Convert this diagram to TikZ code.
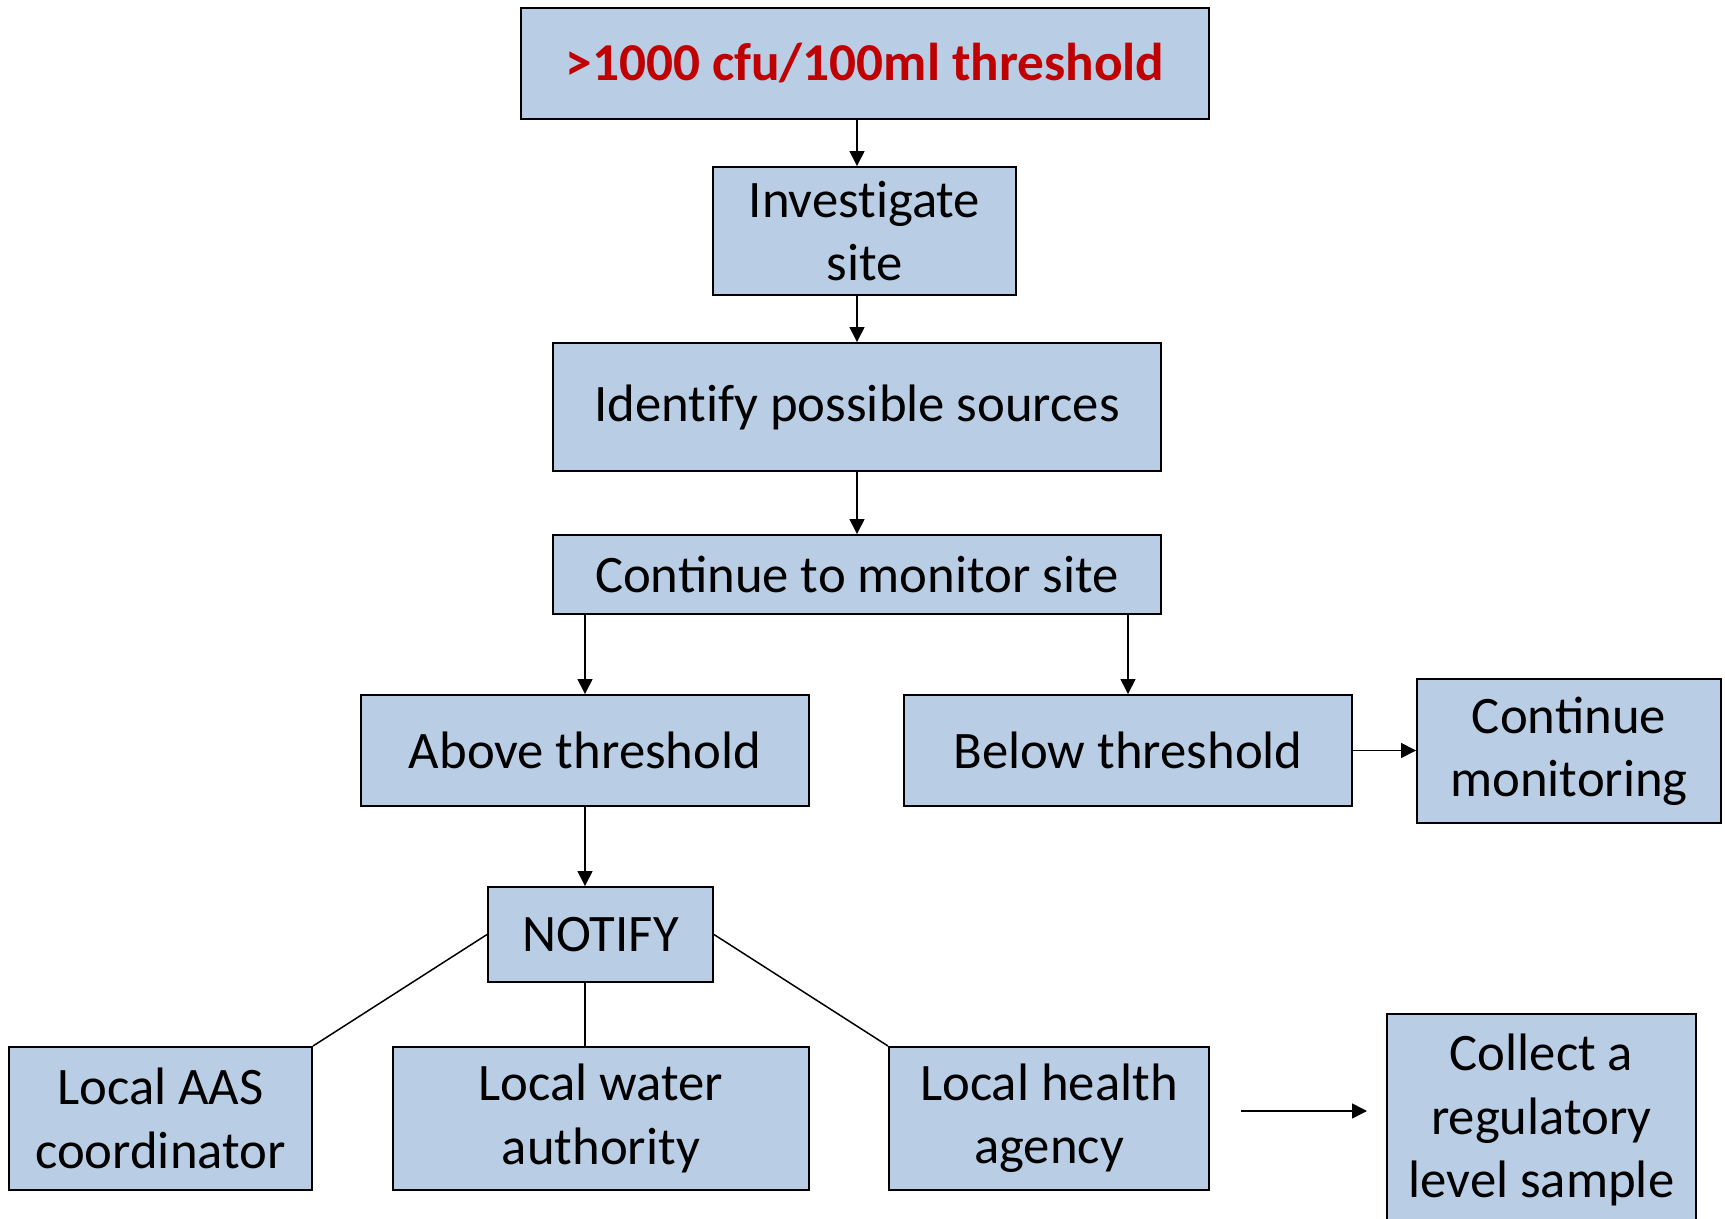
\documentclass[tikz,border=0pt]{standalone}
\usepackage{fontspec}
\setmainfont{Carlito}
\usetikzlibrary{arrows.meta}
\definecolor{boxfill}{HTML}{B9CDE5}
\definecolor{alertred}{HTML}{C00000}
\begin{document}
\begin{tikzpicture}[x=0.02cm,y=-0.02cm,
    box/.style={draw=black,line width=1.1pt,fill=boxfill,rectangle,align=center,
      inner sep=0pt,font=\fontsize{30}{36}\selectfont},
    arr/.style={-{Triangle[length=0.3cm,width=0.3cm]},line width=0.85pt},
    link/.style={line width=0.85pt}]
  \useasboundingbox (0,0) rectangle (1725,1219);
  \node[box,minimum width=688*0.02cm,minimum height=111*0.02cm,text=alertred,
    font=\fontsize{30.3}{36}\selectfont\bfseries] (thr) at (865,63.5) {>1000 cfu/100ml threshold};
  \node[box,minimum width=303*0.02cm,minimum height=128*0.02cm] (inv) at (864.5,231) {Invest\kern0pt igate\\ site};
  \node[box,minimum width=608*0.02cm,minimum height=128*0.02cm] (ident) at (857,407) {Ident\kern0pt ify possible sources};
  \node[box,minimum width=608*0.02cm,minimum height=79*0.02cm] (cont) at (857,574.5) {Continue to monitor site};
  \node[box,minimum width=448*0.02cm,minimum height=111*0.02cm] (above) at (585,750.5) {Above threshold};
  \node[box,minimum width=448*0.02cm,minimum height=111*0.02cm] (below) at (1128,750.5) {Below threshold};
  \node[box,minimum width=304*0.02cm,minimum height=144*0.02cm] (contmon) at (1569,751) {Continue\\ monitoring};
  \node[box,minimum width=225*0.02cm,minimum height=95*0.02cm] (notify) at (600.5,934.5) {NOTIFY};
  \node[box,minimum width=303*0.02cm,minimum height=143*0.02cm] (aas) at (160.5,1118.5) {Local AAS\\ coordinator};
  \node[box,minimum width=416*0.02cm,minimum height=143*0.02cm] (water) at (601,1118.5) {Local water\\ authority};
  \node[box,minimum width=320*0.02cm,minimum height=143*0.02cm] (health) at (1049,1118.5) {Local health\\ agency};
  \node[box,minimum width=309*0.02cm,minimum height=212*0.02cm] (collect) at (1541.5,1120) {Collect a\\ regulatory\\ level sample};
  \coordinate (a1) at (1241,1111);
  \coordinate (a2) at (1367,1111);
  \draw[arr] (thr.south -| ident.north) -- (ident.north |- inv.north);
  \draw[arr] (inv.south -| ident.north) -- (ident.north);
  \draw[arr] (ident.south) -- (cont.north);
  \draw[arr] (above.north |- cont.south) -- (above.north);
  \draw[arr] (below.north |- cont.south) -- (below.north);
  \draw[arr] (above.south) -- (above.south |- notify.north);
  \draw[arr] (below.east) -- (below.east -| contmon.west);
  \draw[link] (notify.west) -- (aas.north east);
  \draw[link] (above.south |- notify.south) -- (above.south |- water.north);
  \draw[link] (notify.east) -- (health.north west);
  \draw[arr] (a1) -- (a2);
\end{tikzpicture}
\end{document}
